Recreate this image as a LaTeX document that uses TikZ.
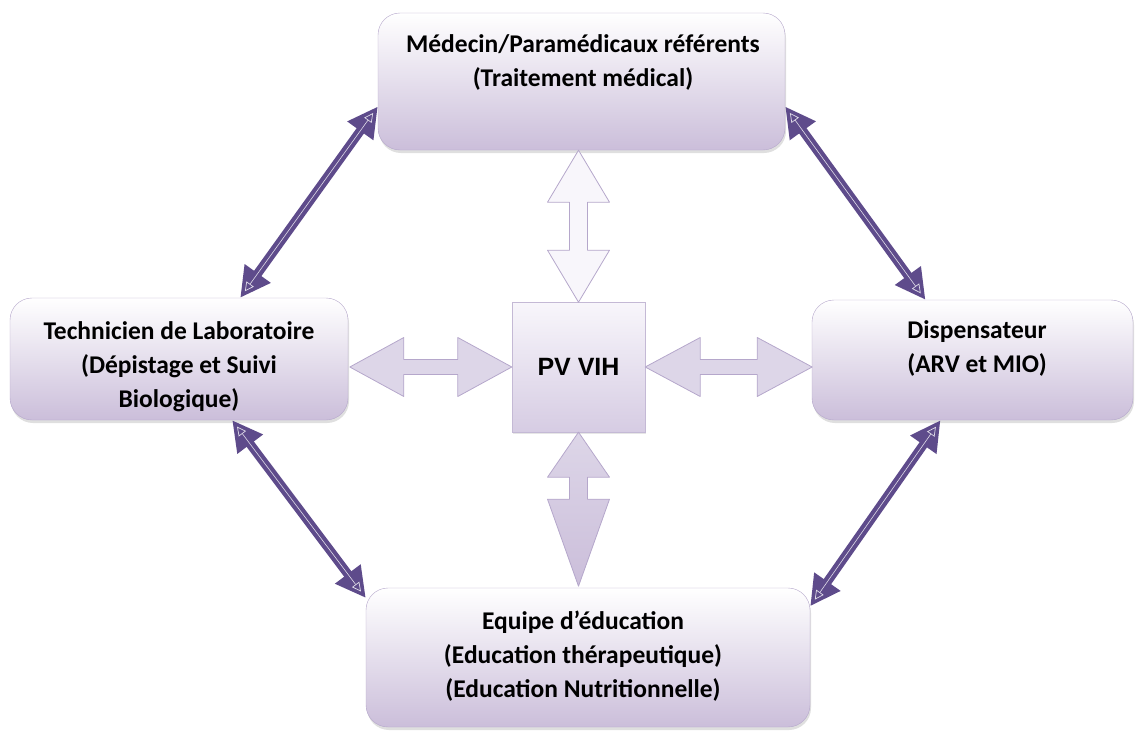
\documentclass[tikz,border=0pt]{standalone}
\usepackage{fontspec}
\setmainfont{Carlito}
\newfontfamily\pvfont{Liberation Sans}
\usetikzlibrary{arrows.meta,positioning,shadows,calc}
\definecolor{rpurple}{HTML}{5E4B8B}
\definecolor{rlav}{HTML}{CBBEDA}
\definecolor{redge}{HTML}{B5A7CB}
\definecolor{rpale}{HTML}{F8F6FB}
\definecolor{rmid}{HTML}{DDD6E8}
\definecolor{rsq}{HTML}{D6CCE3}
\begin{document}
\begin{tikzpicture}[x=1pt,y=-1pt,every node/.style={font=\bfseries\fontsize{25.5}{34}\selectfont,align=center},role/.style={draw=redge,rounded corners=22pt,top color=white,bottom color=rlav,drop shadow={shadow xshift=1pt,shadow yshift=-3pt,opacity=.25}},link/.style={rpurple,line width=9pt,{Triangle[length=30pt 0 0,width=30pt 0 0]}-{Triangle[length=30pt 0 0,width=30pt 0 0]}},linkin/.style={rpurple!20,line width=.6pt,shorten <=8pt,shorten >=8pt,{Triangle[open,length=9pt 0 0,width=9pt 0 0,line width=.7pt]}-{Triangle[open,length=9pt 0 0,width=9pt 0 0,line width=.7pt]}},block/.style={draw=redge,line width=.8pt,line join=round}]
\useasboundingbox (0,0) rectangle (1135,731);
% the five actors
\node[role,minimum width=407pt,minimum height=137pt] (med) at (581.5,81.5) {};
\node (medtxt) at (583,62) {Médecin/Paramédicaux référents\\(Traitement médical)};
\node[role,minimum width=338pt,minimum height=122pt] (lab) at (179,359) {};
\node (labtxt) at (179,367) {Technicien de Laboratoire\\(Dépistage et Suivi\\Biologique)};
\node[role,minimum width=321pt,minimum height=120pt] (disp) at (972.5,360) {};
\node (disptxt) at (977,348.5) {Dispensateur\\(ARV et MIO)};
\node[role,minimum width=444pt,minimum height=139pt] (edu) at (588,657.5) {};
\node (edutxt) at (583,656) {Equipe d’éducation\\(Education thérapeutique)\\(Education Nutritionnelle)};
\node[draw=redge!80,top color=rpale,bottom color=rsq,minimum width=133pt,minimum height=130pt,font={\pvfont\bfseries\fontsize{25}{30}\selectfont},drop shadow={shadow xshift=1pt,shadow yshift=-2pt,opacity=.2}] (pv) at (578.5,367) {PV VIH};
% block arrows round the centre
\draw[block,fill=rpale] (med.south -| pv.north) -- ++(31,52) -- ++(-22,0) -- ++(0,48) -- ++(22,0) -- ++(-31,52) -- ++(-31,-52) -- ++(22,0) -- ++(0,-48) -- ++(-22,0) -- cycle;
\draw[block,top color=rmid,bottom color=rlav] (pv.south) -- ++(31,45) -- ++(-22,0) -- ++(0,22) -- ++(22,0) -- ++(-31,87) -- ++(-31,-87) -- ++(22,0) -- ++(0,-22) -- ++(-22,0) -- cycle;
\draw[block,fill=rmid] (pv.west) -- ++(-54,-29.5) -- ++(0,22) -- ++(-54,0) -- ++(0,-22) -- ++(-54,29.5) -- ++(54,29.5) -- ++(0,-22) -- ++(54,0) -- ++(0,22) -- cycle;
\draw[block,fill=rmid] (pv.east) -- ++(55,-29.5) -- ++(0,22) -- ++(57,0) -- ++(0,-22) -- ++(55,29.5) -- ++(-55,29.5) -- ++(0,-22) -- ++(-57,0) -- ++(0,22) -- cycle;
% outer ring
\foreach \a/\b in {med.187/lab.45,med.353/disp.128,lab.311/edu.165,disp.242/edu.13}{
  \draw[link] (\a) -- (\b);
  \draw[linkin] (\a) -- (\b);
}
\end{tikzpicture}
\end{document}
